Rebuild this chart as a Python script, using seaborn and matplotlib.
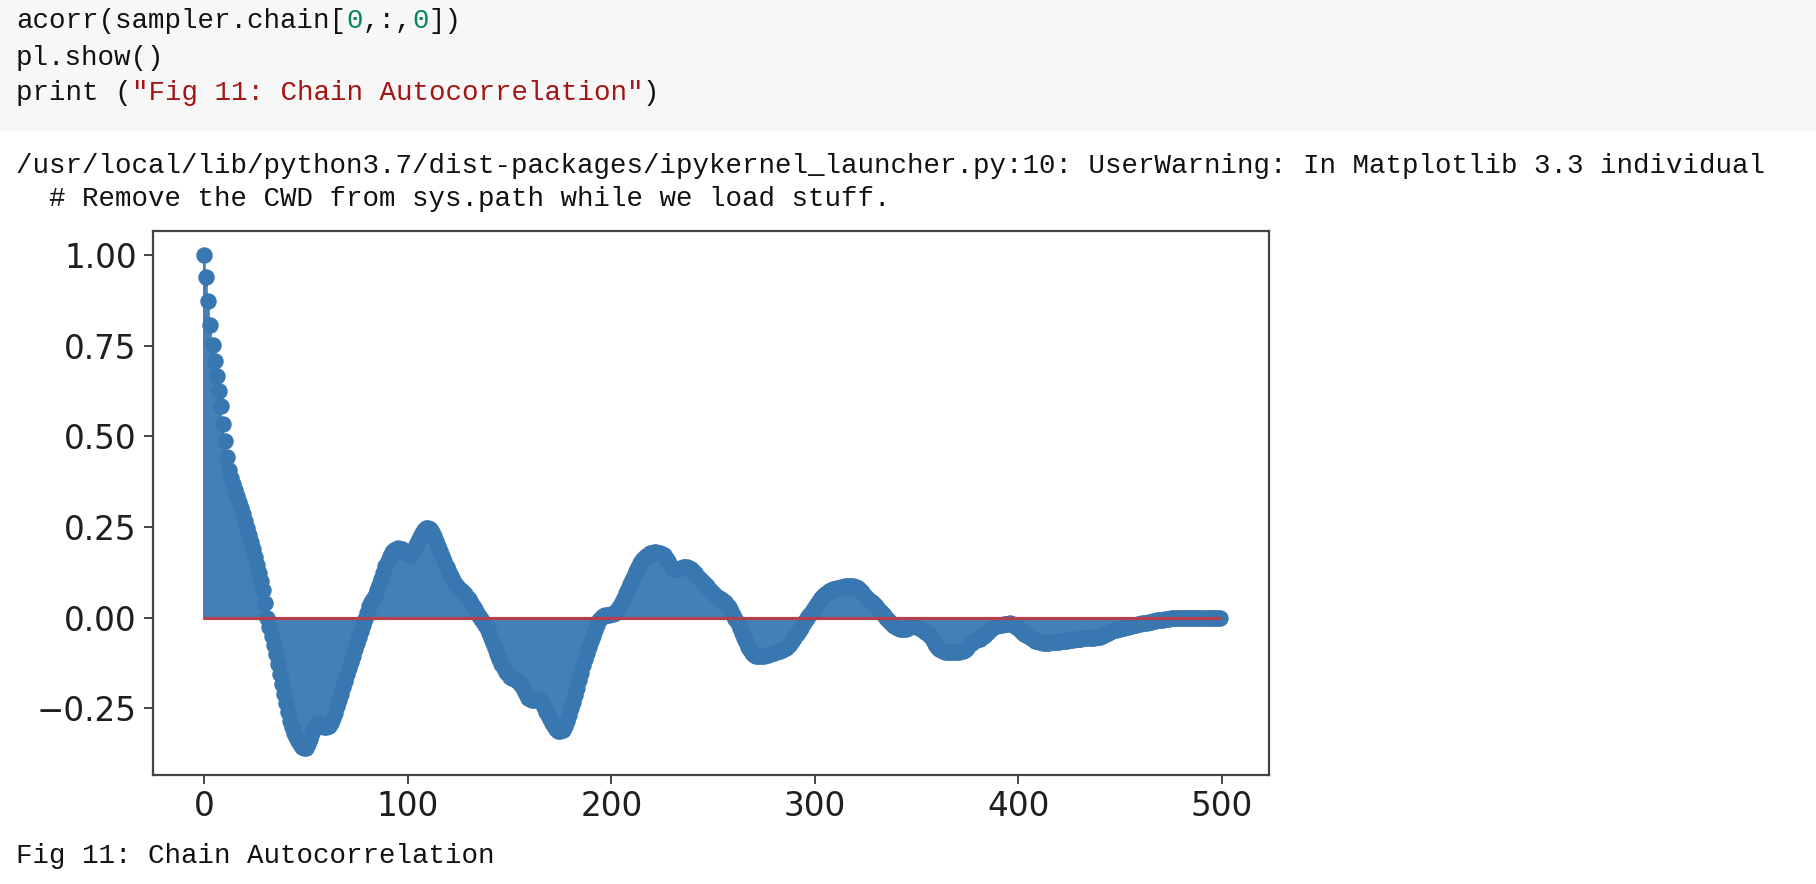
import numpy as np
import matplotlib
matplotlib.use("Agg")
import matplotlib.pyplot as plt
from matplotlib.patches import Rectangle
import seaborn as sns

# ---------------- data ----------------
lags = list(range(500))
acf = [
    1.000, 0.940, 0.874, 0.807, 0.752, 0.709, 0.666, 0.626, 0.584, 0.534,
    0.487, 0.444, 0.407, 0.386, 0.368, 0.352, 0.336, 0.320, 0.303, 0.285,
    0.266, 0.247, 0.228, 0.208, 0.188, 0.167, 0.146, 0.124, 0.100, 0.075,
    0.040, 0.000, -0.025, -0.050, -0.075, -0.100, -0.128, -0.155, -0.182, -0.210,
    -0.236, -0.261, -0.284, -0.302, -0.318, -0.330, -0.340, -0.349, -0.356, -0.361,
    -0.360, -0.350, -0.334, -0.318, -0.303, -0.294, -0.291, -0.294, -0.300, -0.302,
    -0.301, -0.298, -0.290, -0.278, -0.262, -0.245, -0.228, -0.210, -0.192, -0.175,
    -0.157, -0.140, -0.122, -0.105, -0.088, -0.070, -0.053, -0.036, -0.020, -0.004,
    0.012, 0.032, 0.044, 0.050, 0.060, 0.075, 0.090, 0.106, 0.123, 0.141,
    0.157, 0.170, 0.180, 0.186, 0.190, 0.191, 0.190, 0.188, 0.184, 0.180,
    0.176, 0.173, 0.178, 0.188, 0.199, 0.210, 0.222, 0.233, 0.242, 0.247,
    0.248, 0.244, 0.236, 0.225, 0.212, 0.198, 0.184, 0.170, 0.155, 0.140,
    0.127, 0.115, 0.104, 0.094, 0.086, 0.080, 0.075, 0.071, 0.066, 0.058,
    0.050, 0.041, 0.032, 0.023, 0.014, 0.005, -0.005, -0.012, -0.020, -0.030,
    -0.042, -0.056, -0.070, -0.085, -0.100, -0.115, -0.128, -0.140, -0.150, -0.157,
    -0.163, -0.167, -0.170, -0.173, -0.176, -0.182, -0.190, -0.200, -0.212, -0.222,
    -0.226, -0.227, -0.227, -0.226, -0.226, -0.228, -0.236, -0.248, -0.260, -0.270,
    -0.280, -0.290, -0.300, -0.308, -0.313, -0.314, -0.310, -0.300, -0.285, -0.268,
    -0.250, -0.232, -0.213, -0.193, -0.172, -0.152, -0.132, -0.115, -0.098, -0.082,
    -0.066, -0.050, -0.035, -0.020, -0.008, 0.000, 0.004, 0.006, 0.007, 0.008,
    0.009, 0.011, 0.014, 0.020, 0.030, 0.042, 0.055, 0.068, 0.080, 0.092,
    0.104, 0.116, 0.128, 0.140, 0.150, 0.158, 0.165, 0.170, 0.174, 0.177,
    0.179, 0.180, 0.180, 0.179, 0.178, 0.176, 0.172, 0.165, 0.155, 0.145,
    0.138, 0.134, 0.133, 0.135, 0.138, 0.140, 0.140, 0.140, 0.138, 0.134,
    0.128, 0.122, 0.116, 0.110, 0.104, 0.098, 0.092, 0.086, 0.080, 0.074,
    0.068, 0.063, 0.058, 0.054, 0.050, 0.046, 0.042, 0.036, 0.028, 0.018,
    0.008, -0.003, -0.015, -0.028, -0.042, -0.056, -0.068, -0.080, -0.090, -0.098,
    -0.103, -0.106, -0.107, -0.107, -0.106, -0.105, -0.104, -0.102, -0.100, -0.098,
    -0.097, -0.095, -0.093, -0.091, -0.089, -0.087, -0.084, -0.079, -0.072, -0.064,
    -0.055, -0.046, -0.037, -0.028, -0.019, -0.010, -0.002, 0.006, 0.014, 0.022,
    0.030, 0.038, 0.046, 0.053, 0.059, 0.064, 0.068, 0.072, 0.075, 0.078,
    0.080, 0.082, 0.083, 0.084, 0.085, 0.086, 0.087, 0.088, 0.088, 0.087,
    0.085, 0.081, 0.076, 0.070, 0.063, 0.057, 0.052, 0.047, 0.042, 0.037,
    0.031, 0.025, 0.019, 0.013, 0.007, 0.000, -0.006, -0.012, -0.017, -0.022,
    -0.026, -0.029, -0.031, -0.032, -0.032, -0.031, -0.028, -0.024, -0.021, -0.022,
    -0.025, -0.028, -0.031, -0.035, -0.039, -0.043, -0.047, -0.054, -0.063, -0.072,
    -0.080, -0.086, -0.090, -0.093, -0.095, -0.096, -0.096, -0.096, -0.096, -0.095,
    -0.095, -0.094, -0.093, -0.091, -0.089, -0.083, -0.075, -0.069, -0.065, -0.062,
    -0.060, -0.058, -0.054, -0.050, -0.045, -0.040, -0.035, -0.030, -0.026, -0.023,
    -0.021, -0.020, -0.020, -0.019, -0.018, -0.017, -0.016, -0.017, -0.020, -0.025,
    -0.030, -0.035, -0.040, -0.044, -0.048, -0.052, -0.056, -0.060, -0.064, -0.066,
    -0.067, -0.068, -0.069, -0.069, -0.069, -0.069, -0.068, -0.068, -0.068, -0.068,
    -0.067, -0.066, -0.066, -0.065, -0.064, -0.063, -0.062, -0.061, -0.060, -0.059,
    -0.058, -0.058, -0.057, -0.057, -0.056, -0.056, -0.055, -0.055, -0.054, -0.054,
    -0.053, -0.051, -0.049, -0.046, -0.043, -0.040, -0.037, -0.035, -0.034, -0.032,
    -0.031, -0.029, -0.028, -0.026, -0.025, -0.024, -0.023, -0.021, -0.020, -0.019,
    -0.018, -0.016, -0.015, -0.014, -0.012, -0.011, -0.010, -0.009, -0.008, -0.008,
    -0.007, -0.006, -0.005, -0.004, -0.003, -0.002, -0.002, -0.002, -0.002, -0.002,
    -0.002, -0.002, -0.002, -0.002, -0.001, -0.001, -0.001, -0.001, -0.001, -0.001,
    -0.001, -0.001, -0.001, -0.001, -0.001, -0.001, 0.000, 0.000, 0.000, 0.000,
]
xticks = [0, 100, 200, 300, 400, 500]
yticks = [-0.25, 0.00, 0.25, 0.50, 0.75, 1.00]

code_line1 = [("acorr(sampler.chain[", "code"), ("0", "num"), (",:,", "code"),
              ("0", "num"), ("])", "code")]
code_line2 = [("pl.show()", "code")]
code_line3 = [("print (", "code"), ('"Fig 11: Chain Autocorrelation"', "str"),
              (")", "code")]
warn_line1 = ("/usr/local/lib/python3.7/dist-packages/ipykernel_launcher.py:10: "
              "UserWarning: In Matplotlib 3.3 individual")
warn_line2 = "  # Remove the CWD from sys.path while we load stuff."
caption = "Fig 11: Chain Autocorrelation"

# ---------------- styling ----------------
sns.set_theme(style="ticks")
plt.rcParams['font.family'] = ['DejaVu Sans']

W, H = 1816, 884
fig = plt.figure(figsize=(W / 100, H / 100), dpi=100)
fig.patch.set_facecolor("white")

# code cell background
fig.patches.append(Rectangle((0, 1 - 131 / H), 1, 131 / H, transform=fig.transFigure,
                             facecolor="#f7f7f7", edgecolor="none", zorder=0))

mono = "Liberation Mono"
fs_code = 19.8
char_w = fs_code / 72 * 100 * 0.6  # px per character
colors = {"code": "#111111", "num": "#098658", "str": "#a31515"}


def draw_segments(segs, y_px):
    col = 0
    for text, kind in segs:
        fig.text((16 + col * char_w) / W, 1 - y_px / H, text, family=mono,
                 fontsize=fs_code, color=colors[kind], va="center", ha="left")
        col += len(text)


draw_segments(code_line1, 21)
draw_segments(code_line2, 58)
draw_segments(code_line3, 93)
fig.text(16 / W, 1 - 166 / H, warn_line1, family=mono, fontsize=fs_code,
         color="#111111", va="center", ha="left")
fig.text(16 / W, 1 - 199 / H, warn_line2, family=mono, fontsize=fs_code,
         color="#111111", va="center", ha="left")
fig.text(16 / W, 1 - 856 / H, caption, family=mono, fontsize=fs_code,
         color="#111111", va="center", ha="left")

# ---------------- chart ----------------
ax_l, ax_r, ax_t, ax_b = 152.7, 1269.0, 230.9, 774.5
ax = fig.add_axes([ax_l / W, 1 - ax_b / H, (ax_r - ax_l) / W, (ax_b - ax_t) / H])
ax.set_facecolor("white")

stems = ax.vlines(lags, 0, acf, colors="#4480b5", linewidth=2.0, zorder=1)
stems.set_snap(False)
sns.scatterplot(x=lags, y=acf, ax=ax, color="#3977b0", s=140, linewidth=0,
                zorder=2, legend=False)
ax.plot([lags[0], lags[-1]], [0, 0], color="#b5404d", linewidth=2.3, zorder=3)

ax.set_xlim(-25.4, 523.2)
ax.set_ylim(-0.433, 1.067)
ax.set_xticks(xticks)
ax.set_xticklabels([str(t) for t in xticks])
ax.set_yticks(yticks)
ax.set_yticklabels([f"{t:.2f}".replace("-", "\u2212") for t in yticks])
ax.set_xlabel("")
ax.set_ylabel("")

for sp in ax.spines.values():
    sp.set_visible(True)
    sp.set_color("#444444")
    sp.set_linewidth(1.6)
ax.tick_params(axis="both", which="major", length=6.5, width=1.4, color="#444444",
               labelsize=23.5, labelcolor="#1f1f1f", pad=5, direction="out")

fig.savefig("out.png", dpi=100, facecolor="white")
